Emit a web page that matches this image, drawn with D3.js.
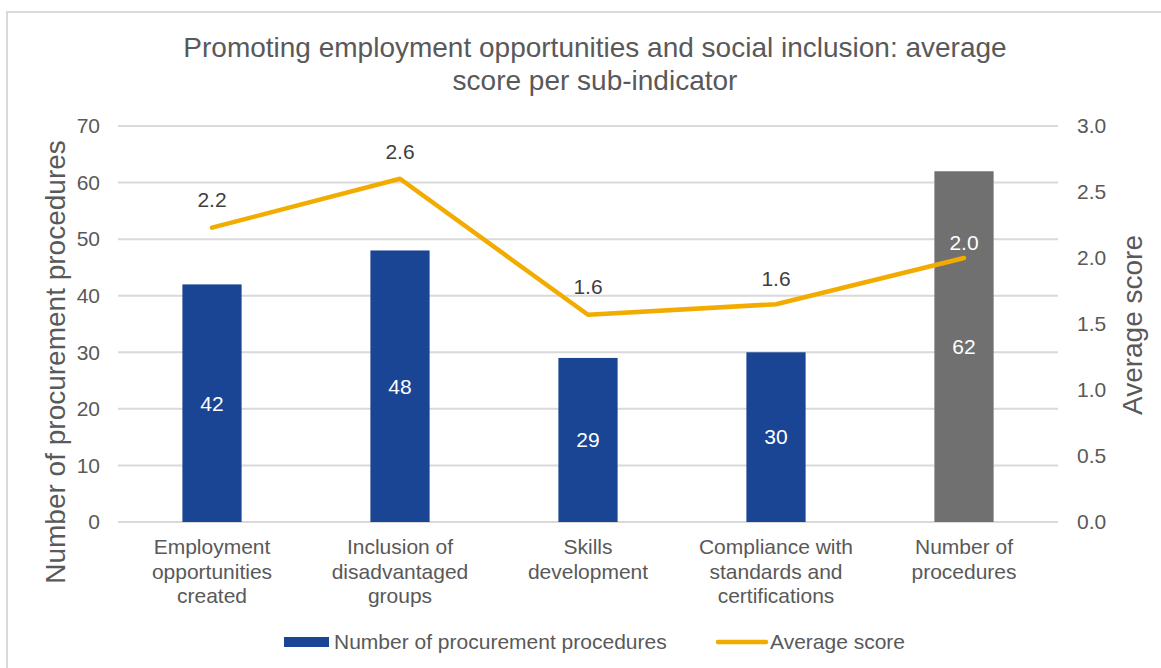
<!DOCTYPE html>
<html>
<head>
<meta charset="utf-8">
<script src="https://cdn.jsdelivr.net/npm/d3@7/dist/d3.min.js"></script>
<style>
  html, body { margin: 0; padding: 0; background: #fff; }
  svg { display: block; font-family: "Liberation Sans", Arial, sans-serif; }
</style>
</head>
<body>
<svg id="chart" width="1161" height="668"></svg>
<script>
// Sub-indicators (category labels split into lines)
const categories = [
  ["Employment", "opportunities", "created"],
  ["Inclusion of", "disadvantaged", "groups"],
  ["Skills", "development"],
  ["Compliance with", "standards and", "certifications"],
  ["Number of", "procedures"]
];
// Number of procurement procedures (bars, left axis)
const procedures = [42, 48, 29, 30, 62];
// Average score (line, right axis)
const avgScore = [2.23, 2.6, 1.57, 1.65, 2.0];
// Tick values
const leftTicks = [0, 10, 20, 30, 40, 50, 60, 70];
const rightTicks = [0, 0.5, 1.0, 1.5, 2.0, 2.5, 3.0];

const titleLines = ["Promoting employment opportunities and social inclusion: average", "score per sub-indicator"];
const seriesNames = ["Number of procurement procedures", "Average score"];

const textColor = "#595959";
const gridColor = "#d9d9d9";
const blue = "#1a4594";
const gray = "#707070";
const orange = "#f2ac00";
const fontFamily = "'Liberation Sans', Arial, sans-serif";
const baseSize = "21px";

const svg = d3.select("#chart");

// chart frame
svg.append("rect")
  .attr("x", 7).attr("y", 12).attr("width", 1170).attr("height", 680)
  .attr("fill", "#fff").attr("stroke", gridColor).attr("stroke-width", 2);

const plot = { left: 118, right: 1058, top: 126, bottom: 522 };

const x = d3.scaleBand().domain(d3.range(categories.length))
  .range([plot.left, plot.right]).paddingInner(0).paddingOuter(0);
const yL = d3.scaleLinear().domain([0, 70]).range([plot.bottom, plot.top]);
const yR = d3.scaleLinear().domain([0, 3]).range([plot.bottom, plot.top]);

// gridlines
svg.append("g").selectAll("line").data(leftTicks).join("line")
  .attr("x1", plot.left).attr("x2", plot.right)
  .attr("y1", d => yL(d)).attr("y2", d => yL(d))
  .attr("stroke", gridColor).attr("stroke-width", 2);

// left axis
const leftAxis = svg.append("g")
  .attr("transform", `translate(${plot.left},0)`)
  .call(d3.axisLeft(yL).tickValues(leftTicks).tickSize(0).tickPadding(18));
leftAxis.select(".domain").remove();
leftAxis.selectAll("text").attr("fill", textColor)
  .style("font-size", baseSize).style("font-family", fontFamily);

// right axis
const rightAxis = svg.append("g")
  .attr("transform", `translate(${plot.right},0)`)
  .call(d3.axisRight(yR).tickValues(rightTicks).tickSize(0).tickPadding(19).tickFormat(d3.format(".1f")));
rightAxis.select(".domain").remove();
rightAxis.selectAll("text").attr("fill", textColor)
  .style("font-size", baseSize).style("font-family", fontFamily);

// bars
const barW = x.bandwidth() * 0.315;
svg.append("g").selectAll("rect").data(procedures).join("rect")
  .attr("x", (d, i) => x(i) + (x.bandwidth() - barW) / 2)
  .attr("width", barW)
  .attr("y", d => yL(d))
  .attr("height", d => yL(0) - yL(d))
  .attr("fill", (d, i) => i === procedures.length - 1 ? gray : blue);

// bar value labels (centered inside bars)
svg.append("g").selectAll("text").data(procedures).join("text")
  .attr("x", (d, i) => x(i) + x.bandwidth() / 2)
  .attr("y", d => (yL(d) + yL(0)) / 2)
  .attr("dy", "0.35em")
  .attr("text-anchor", "middle")
  .attr("fill", "#ffffff")
  .style("font-size", baseSize)
  .text(d => d);

// average score line
const line = d3.line()
  .x((d, i) => x(i) + x.bandwidth() / 2)
  .y(d => yR(d));
svg.append("path").datum(avgScore)
  .attr("d", line)
  .attr("fill", "none")
  .attr("stroke", orange)
  .attr("stroke-width", 4.5)
  .attr("stroke-linecap", "round")
  .attr("stroke-linejoin", "round");

// line value labels
const lineLabelDy = [-28, -27, -28, -26, -15];
svg.append("g").selectAll("text").data(avgScore).join("text")
  .attr("x", (d, i) => x(i) + x.bandwidth() / 2)
  .attr("y", (d, i) => yR(d) + lineLabelDy[i])
  .attr("dy", "0.35em")
  .attr("text-anchor", "middle")
  .attr("fill", (d, i) => i === avgScore.length - 1 ? "#ffffff" : "#404040")
  .style("font-size", baseSize)
  .text(d => d3.format(".1f")(d));

// category labels
const cat = svg.append("g").selectAll("text").data(categories).join("text")
  .attr("x", (d, i) => x(i) + x.bandwidth() / 2)
  .attr("y", 547)
  .attr("text-anchor", "middle")
  .attr("fill", textColor)
  .style("font-size", baseSize);
cat.selectAll("tspan").data(d => d).join("tspan")
  .attr("x", function () { return d3.select(this.parentNode).attr("x"); })
  .attr("dy", (d, j) => j === 0 ? "0.35em" : "24.5")
  .text(d => d);

// title
svg.append("g").selectAll("text").data(titleLines).join("text")
  .attr("x", 595)
  .attr("y", (d, i) => 47 + i * 33)
  .attr("dy", "0.35em")
  .attr("text-anchor", "middle")
  .attr("fill", textColor)
  .style("font-size", "28px")
  .text(d => d);

// axis titles
svg.append("text")
  .attr("transform", `translate(55,362) rotate(-90)`)
  .attr("dy", "0.35em")
  .attr("text-anchor", "middle")
  .attr("fill", textColor)
  .style("font-size", "28px")
  .text(seriesNames[0]);
svg.append("text")
  .attr("transform", `translate(1132,325) rotate(-90)`)
  .attr("dy", "0.35em")
  .attr("text-anchor", "middle")
  .attr("fill", textColor)
  .style("font-size", "28px")
  .text(seriesNames[1]);

// legend
const legend = svg.append("g");
legend.append("rect")
  .attr("x", 284).attr("y", 637).attr("width", 45).attr("height", 10)
  .attr("fill", blue);
legend.append("text")
  .attr("x", 334).attr("y", 642).attr("dy", "0.35em")
  .attr("fill", textColor).style("font-size", baseSize)
  .text(seriesNames[0]);
legend.append("line")
  .attr("x1", 718).attr("x2", 766).attr("y1", 642).attr("y2", 642)
  .attr("stroke", orange).attr("stroke-width", 4.5).attr("stroke-linecap", "round");
legend.append("text")
  .attr("x", 770).attr("y", 642).attr("dy", "0.35em")
  .attr("fill", textColor).style("font-size", baseSize)
  .text(seriesNames[1]);
</script>
</body>
</html>
